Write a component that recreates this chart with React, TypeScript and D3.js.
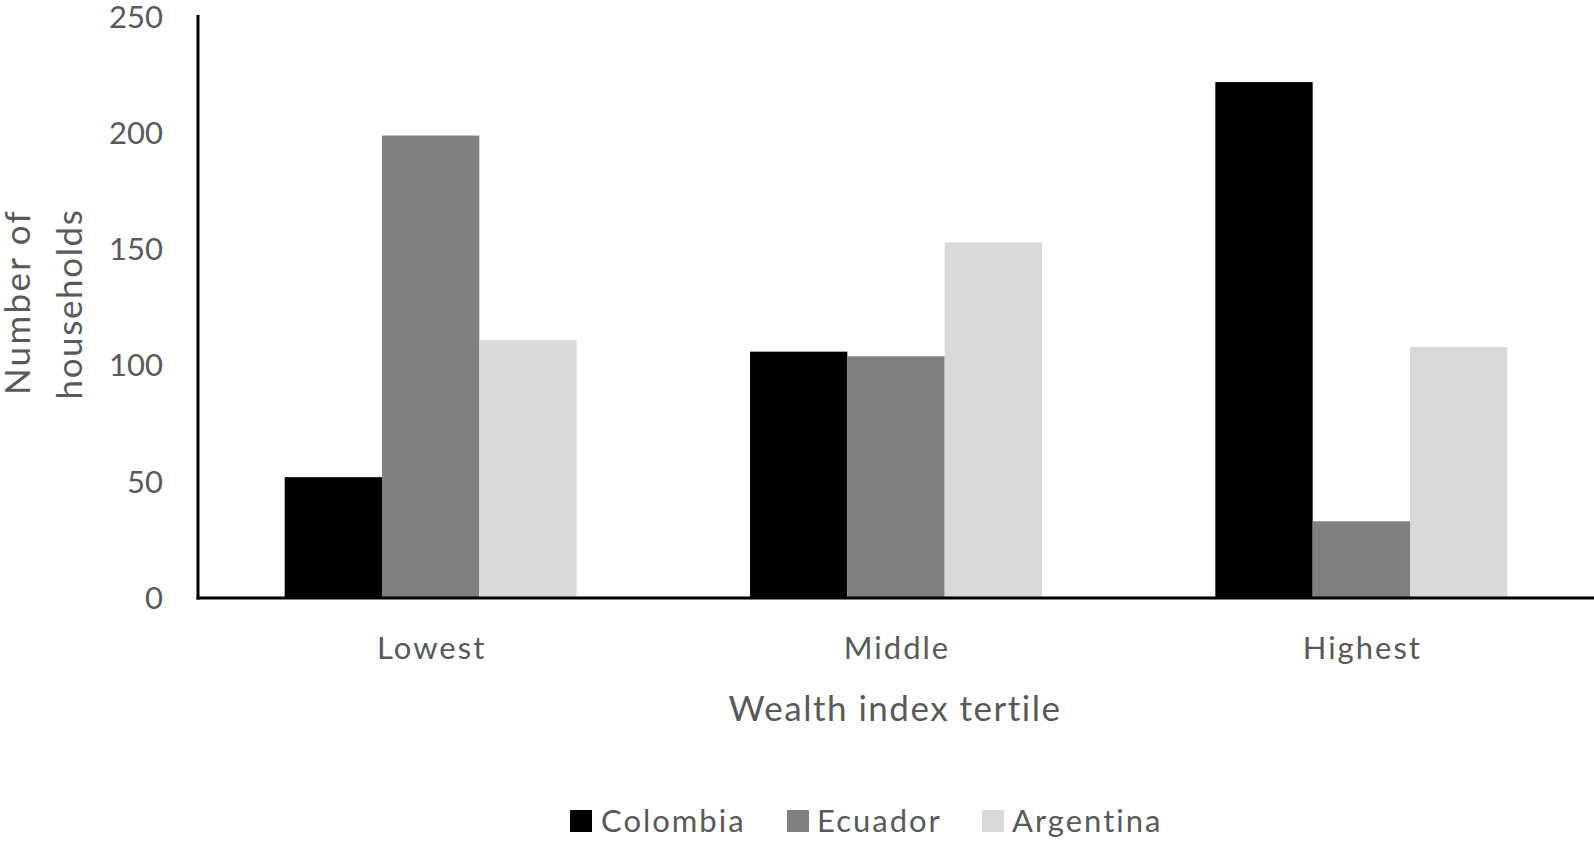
import React from "react";
import * as d3 from "d3";

const categories = ["Lowest", "Middle", "Highest"];
const seriesNames = ["Colombia", "Ecuador", "Argentina"];
const colombia = [52, 106, 222];
const ecuador = [199, 104, 33];
const argentina = [111, 153, 108];
const yTicks = [0, 50, 100, 150, 200, 250];
const colors = ["#000000", "#808080", "#d9d9d9"];

const W = 1594;
const H = 841;
const left = 198;
const right = 1594;
const top = 17;
const bottom = 598;
const FONT = "Lato, 'Open Sans', sans-serif";
const TXT = "#595959";

export default function App() {
  const values = [colombia, ecuador, argentina];
  const p = 0.3725;
  const x0 = d3.scaleBand<string>().domain(categories).range([left, right]).paddingInner(p).paddingOuter(p / 2);
  const x1 = d3.scaleBand<string>().domain(seriesNames).range([0, x0.bandwidth()]).padding(0);
  const y = d3.scaleLinear().domain([0, 250]).range([bottom, top]);

  const legendItems = [
    { name: "Colombia", sq: 570, tx: 601 },
    { name: "Ecuador", sq: 787, tx: 817 },
    { name: "Argentina", sq: 982, tx: 1012 },
  ];

  return (
    <svg width={W} height={H} style={{ position: "absolute", left: 0, top: 0, background: "#fff" }}>
      {categories.map((c, ci) =>
        seriesNames.map((s, si) => {
          const v = values[si][ci];
          return (
            <rect
              key={c + s}
              x={(x0(c) as number) + (x1(s) as number)}
              y={y(v)}
              width={x1.bandwidth()}
              height={bottom - y(v)}
              fill={colors[si]}
            />
          );
        })
      )}
      <line x1={left} x2={left} y1={15} y2={bottom + 1.5} stroke="#000" strokeWidth={3} />
      <line x1={left - 1.5} x2={right} y1={bottom} y2={bottom} stroke="#000" strokeWidth={3} />
      {yTicks.map((t) => (
        <text key={t} x={163} y={y(t)} dy="0.35em" textAnchor="end" fontFamily={FONT} fontSize={31} fill={TXT}>
          {t}
        </text>
      ))}
      {categories.map((c) => (
        <text
          key={c}
          x={(x0(c) as number) + x0.bandwidth() / 2 + 1}
          y={648}
          dy="0.35em"
          textAnchor="middle"
          fontFamily={FONT}
          fontSize={31}
          letterSpacing={2}
          fill={TXT}
        >
          {c}
        </text>
      ))}
      <text x={895} y={709} dy="0.35em" textAnchor="middle" fontFamily={FONT} fontSize={35} letterSpacing={1.5} fill={TXT}>
        Wealth index tertile
      </text>
      <text transform="translate(18,302) rotate(-90)" dy="0.35em" textAnchor="middle" fontFamily={FONT} fontSize={35} letterSpacing={2.3} fill={TXT}>
        Number of
      </text>
      <text transform="translate(70,304) rotate(-90)" dy="0.35em" textAnchor="middle" fontFamily={FONT} fontSize={35} letterSpacing={1.6} fill={TXT}>
        households
      </text>
      {legendItems.map((it, i) => (
        <g key={it.name}>
          <rect x={it.sq} y={810} width={22} height={22} fill={colors[i]} />
          <text x={it.tx} y={821} dy="0.35em" fontFamily={FONT} fontSize={31} letterSpacing={2} fill={TXT}>
            {it.name}
          </text>
        </g>
      ))}
    </svg>
  );
}
